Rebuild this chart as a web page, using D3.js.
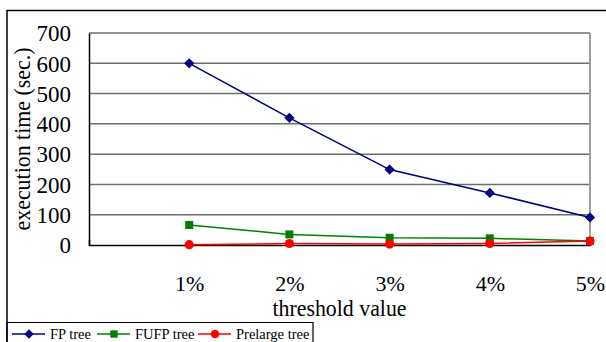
<!DOCTYPE html>
<html>
<head>
<meta charset="utf-8">
<script src="https://cdn.jsdelivr.net/npm/d3@7"></script>
<style>
  body { margin: 0; background: #fff; }
</style>
</head>
<body>
<script>
const categories = ['1%', '2%', '3%', '4%', '5%']
const fpTree = [600, 420, 249, 172, 91]
const fufpTree = [66, 35, 24, 22, 13]
const prelargeTree = [1, 5, 3, 5, 13]
const yTicks = [0, 100, 200, 300, 400, 500, 600, 700]

const serif = 'Liberation Serif'

const series = [
  {name: 'FP tree', values: fpTree, color: '#000080', shape: d3.symbolSquare, size: 52, rotate: 45},
  {name: 'FUFP tree', values: fufpTree, color: '#008000', shape: d3.symbolSquare, size: 64, rotate: 0},
  {name: 'Prelarge tree', values: prelargeTree, color: '#ff0000', shape: d3.symbolCircle, size: 66, rotate: 0}
]

const fullWidth = 606
const fullHeight = 342
const margin = {top: 33, right: 16, bottom: 97, left: 89}
const width = fullWidth - margin.left - margin.right
const height = fullHeight - margin.top - margin.bottom

const svg = d3.select('body').append('svg')
  .attr('width', fullWidth)
  .attr('height', fullHeight)
  .attr('font-family', serif)

// outer frame (runs off the right and bottom edges)
svg.append('path')
  .attr('d', `M7,${fullHeight + 2} V10.5 H${fullWidth + 2}`)
  .attr('fill', 'none')
  .attr('stroke', '#000')
  .attr('stroke-width', 1.5)

const g = svg.append('g')
  .attr('transform', `translate(${margin.left},${margin.top})`)

// one empty slot before the first category, last one sits on the right edge
const x = d3.scaleLinear().domain([0, categories.length]).range([0, width])
const y = d3.scaleLinear().domain([0, 700]).range([height, 0])

// gridlines
g.append('g')
  .selectAll('line')
  .data(yTicks.filter(d => d > 0))
  .join('line')
  .attr('x1', 0).attr('x2', width)
  .attr('y1', d => y(d)).attr('y2', d => y(d))
  .attr('stroke', '#6e6e6e')
  .attr('stroke-width', 1.5)

// right border of plot
g.append('line')
  .attr('x1', width).attr('x2', width)
  .attr('y1', 0).attr('y2', height)
  .attr('stroke', '#a0a0a0')
  .attr('stroke-width', 2)

// y axis
const yAxis = g.append('g')
  .call(d3.axisLeft(y).tickValues(yTicks).tickSize(0).tickPadding(18))
  .attr('font-family', serif)
  .attr('font-size', 23)
yAxis.select('.domain').attr('stroke', '#000').attr('stroke-width', 1.5)
yAxis.selectAll('.tick text')
  .attr('font-family', serif)
  .attr('dy', '0.34em')

// x axis
const xAxis = g.append('g')
  .attr('transform', `translate(0,${height})`)
  .call(d3.axisBottom(x).tickValues(d3.range(1, categories.length + 1))
    .tickFormat(i => categories[i - 1]).tickSize(-5).tickPadding(30))
  .attr('font-family', serif)
  .attr('font-size', 22)
xAxis.select('.domain').attr('stroke', '#000').attr('stroke-width', 1.5)
xAxis.selectAll('.tick line').attr('stroke', '#555')
xAxis.selectAll('.tick text')
  .attr('font-family', serif)

// axis titles
g.append('text')
  .attr('x', width / 2)
  .attr('y', height + 71)
  .attr('text-anchor', 'middle')
  .attr('font-size', 23)
  .attr('textLength', 134)
  .attr('lengthAdjust', 'spacingAndGlyphs')
  .text('threshold value')

svg.append('text')
  .attr('transform', 'translate(30,139) rotate(-90)')
  .attr('text-anchor', 'middle')
  .attr('font-size', 24)
  .attr('textLength', 183)
  .attr('lengthAdjust', 'spacingAndGlyphs')
  .text('execution time (sec.)')

// lines and markers
const line = d3.line()
  .x((d, i) => x(i + 1))
  .y(d => y(d))

series.forEach(s => {
  g.append('path')
    .datum(s.values)
    .attr('fill', 'none')
    .attr('stroke', s.color)
    .attr('stroke-width', 1.5)
    .attr('d', line)
  g.append('g')
    .selectAll('path')
    .data(s.values)
    .join('path')
    .attr('transform', (d, i) => `translate(${x(i + 1)},${y(d)}) rotate(${s.rotate})`)
    .attr('d', d3.symbol(s.shape, s.size))
    .attr('fill', s.color)
})

// legend
const legend = svg.append('g')
svg.append('path')
  .attr('d', `M7,${fullHeight + 2} V322.5 H313 V${fullHeight + 2}`)
  .attr('fill', 'none')
  .attr('stroke', '#000')
  .attr('stroke-width', 1.2)

const legendX = [12, 97, 198]
series.forEach((s, i) => {
  const lg = legend.append('g').attr('transform', `translate(${legendX[i]},334)`)
  lg.append('line').attr('x1', 0).attr('x2', 33).attr('stroke', s.color).attr('stroke-width', 1.5)
  lg.append('path').attr('transform', `translate(17,0) rotate(${s.rotate})`)
    .attr('d', d3.symbol(s.shape, s.size * 0.85)).attr('fill', s.color)
  lg.append('text').attr('x', 38).attr('y', 5).attr('font-size', 14.5).text(s.name)
})
</script>
</body>
</html>
